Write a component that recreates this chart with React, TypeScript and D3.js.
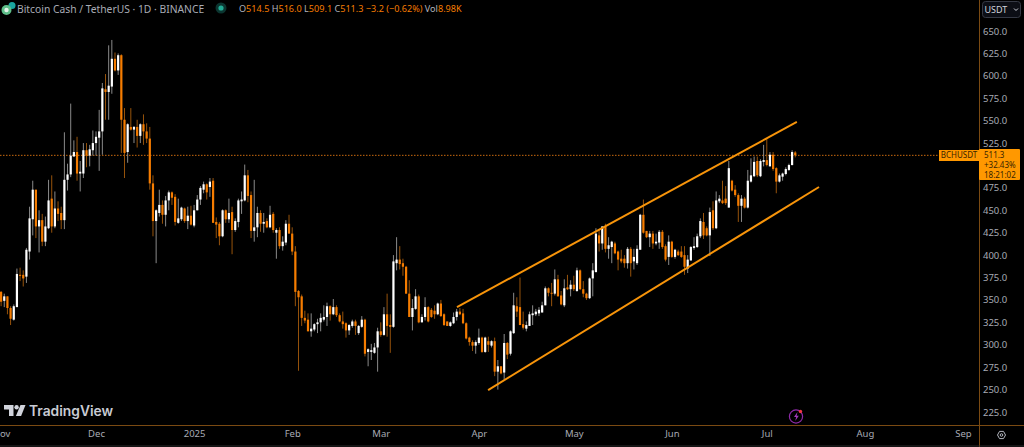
import { useEffect, useRef } from "react";
import * as d3 from "d3";

const firstDay = new Date(Date.UTC(2024, 10, 1));

// daily candles from 2024-11-01
const opens = [
  359,349,354,341,328,342,378,378,376,404,
  440,473,432,439,415,430,463,432,452,447,
  439,484,490,510,515,491,491,517,511,517,
  525,531,538,585,582,588,619,606,623,551,
  515,543,540,543,533,546,538,530,480,438,
  447,456,445,461,470,465,436,440,452,438,
  444,433,450,462,473,479,476,483,437,435,
  421,450,440,448,428,437,460,461,489,467,
  427,431,447,435,438,431,446,425,428,410,
  414,435,424,404,360,354,330,328,315,317,
  323,325,328,331,343,334,342,333,326,324,
  316,321,326,313,320,328,292,292,291,297,
  315,311,334,322,320,391,395,391,387,357,
  331,340,354,325,331,342,339,338,334,346,
  334,326,321,324,331,337,335,324,308,303,
  299,302,308,292,304,299,304,270,276,269,
  302,290,313,343,342,323,318,321,333,334,
  335,336,344,363,358,357,373,355,344,364,
  362,367,360,383,362,357,352,374,381,422,
  413,432,407,409,413,404,396,396,391,407,
  393,391,406,445,427,420,424,413,414,426,
  410,398,415,398,404,404,400,385,394,408,
  409,421,437,430,422,450,430,460,461,463,
  453,483,473,467,455,463,453,482,488,505,
  488,504,506,499,512,497,482,487.5,490.5,495,
  500.5,514.5,
];
const closes = [
  348,354,341,329,343,379,377,374,406,441,
  473,432,439,415,432,461,432,452,446,439,
  484,490,511,515,491,493,517,511,518,525,
  532,538,586,582,589,619,606,623,551,514,
  546,540,543,533,546,538,530,480,438,450,
  456,445,461,470,464,437,441,453,438,444,
  434,450,462,475,479,470,482,436,434,421,
  450,440,447,428,438,461,462,489,466,427,
  431,447,435,437,431,445,428,428,410,415,
  435,424,404,359,353,330,327,315,318,323,
  325,330,331,343,334,342,333,326,323,316,
  322,326,321,321,328,290,295,294,297,315,
  311,334,321,320,393,395,390,387,357,331,
  341,354,325,331,342,326,331,334,346,332,
  322,321,325,331,337,334,324,307,303,299,
  303,308,292,308,300,304,270,276,268,302,
  289,315,344,337,322,319,322,334,335,337,
  339,344,363,358,357,373,354,345,363,362,
  367,362,383,362,357,352,374,383,424,413,
  432,407,411,415,402,395,393,391,407,391,
  398,407,445,425,420,424,413,415,426,409,
  395,415,398,406,400,398,387,395,409,410,
  421,438,422,422,448,430,461,463,458,458,
  497,472,467,455,463,453,483,489,504,489,
  505,506,500.5,512,496,482,489,491,496,500.5,
  515,511.3,
];
const highs = [
  360,357,354,343,345,385,386,383,408,454,
  483,473,450,446,443,484,489,471,460,454,
  537,502,569,528,532,505,525,525,523,539,
  538,562,592,602,634,640,626,625,624,564,
  547,564,544,551,547,557,547,543,489,451,
  473,461,466,472,471,468,463,454,453,454,
  455,456,467,477,482,480,486,486,442,437,
  451,451,463,454,441,463,471,501,495,471,
  484,454,450,447,441,455,448,430,431,421,
  439,445,431,410,361,356,338,335,335,324,
  329,335,344,347,344,351,344,335,337,325,
  323,328,328,322,332,329,296,301,302,319,
  325,342,357,334,400,420,410,396,388,372,
  351,362,356,334,353,343,341,344,347,350,
  335,326,326,336,340,341,340,325,309,305,
  305,318,309,309,309,305,308,283,276,312,
  303,316,358,353,375,337,326,337,344,340,
  342,348,365,364,369,384,378,360,373,378,
  372,377,386,384,371,358,375,391,430,429,
  432,435,420,416,415,405,406,400,409,409,
  407,411,446,462,427,427,427,424,428,428,
  412,422,416,407,406,410,410,400,410,420,
  424,441,447,432,453,460,471,467,483,477,
  505,484,478,469,467,465,495,508,510,510,
  507,523,530,515,515,498,491,492,498,502,
  517,516,
];
const lows = [
  343,342,334,322,327,342,371,365,369,395,
  422,419,403,410,410,429,425,430,438,429,
  429,472,487,510,483,471,486,498,499,511,
  511,494,512,551,551,580,605,601,514,486,
  503,539,525,520,525,523,525,473,421,391,
  443,435,432,450,456,433,435,438,436,429,
  433,431,450,456,469,462,465,436,419,411,
  420,436,436,401,426,431,446,460,459,419,
  415,420,426,425,430,430,425,396,407,405,
  411,424,400,343,271,321,324,315,309,315,
  313,315,326,321,327,333,331,325,318,308,
  311,319,311,311,319,287,276,283,290,270,
  309,310,309,291,319,383,384,377,357,331,
  316,339,324,325,327,325,330,329,333,331,
  321,321,320,323,327,333,323,306,299,293,
  290,300,291,291,292,297,265,250,267,261,
  284,288,312,331,322,317,315,321,322,332,
  332,336,344,354,343,355,354,344,342,361,
  354,360,359,361,353,350,351,354,381,404,
  406,403,396,391,401,383,391,386,385,376,
  384,389,406,424,419,409,407,411,407,407,
  393,389,397,396,399,397,378,380,394,406,
  408,419,418,421,399,428,429,458,457,456,
  453,471,465,437,437,452,452,481,487,487,
  487,499,499,499,494,469,481,483,489,494,
  500,509,
];

const priceTicks = [225,250,275,300,325,350,375,400,425,450,475,500,525,550,575,600,625,650];
const monthTicks = ["2024-11-01","2024-12-01","2025-01-01","2025-02-01","2025-03-01","2025-04-01","2025-05-01","2025-06-01","2025-07-01","2025-08-01","2025-09-01"];
const monthLabels = ["Nov","Dec","2025","Feb","Mar","Apr","May","Jun","Jul","Aug","Sep"];

// the two hand drawn channel lines, [date, price]
const upperChannel: [string, number][] = [["2025-03-25T02:00:00Z", 342], ["2025-07-10T12:00:00Z", 548.5]];
const lowerChannel: [string, number][] = [["2025-04-03T22:00:00Z", 249.5], ["2025-07-17T12:00:00Z", 476]];

const lastPrice = 511.3;

const legendParts: [string, string][] = [
  ["O", "#b2b5be"], ["514.5 ", "#f57c00"], ["H", "#b2b5be"], ["516.0 ", "#f57c00"],
  ["L", "#b2b5be"], ["509.1 ", "#f57c00"], ["C", "#b2b5be"], ["511.3 ", "#f57c00"],
  ["−3.2 (−0.62%) ", "#f57c00"], ["Vol", "#b2b5be"], ["8.98K", "#f57c00"],
];

const ORANGE = "#f57c00";
const WHITE = "#ffffff";
const FONT = "'Noto Sans', sans-serif";

export default function App() {
  const svgRef = useRef<SVGSVGElement>(null);

  useEffect(() => {
    const el = svgRef.current;
    if (!el) return;
    document.body.style.margin = "0";
    document.body.style.background = "#000";

    const width = 1024;
    const height = 447;
    const plotRight = 979;
    const plotBottom = 425;

    const svg = d3.select(el);
    svg.selectAll("*").remove();

    const x = d3
      .scaleUtc()
      .domain([firstDay, new Date(Date.UTC(2025, 8, 1))])
      .range([1.1, 1.1 + 304 * 3.164]);
    const y = d3.scaleLinear().domain([225, 650]).range([412, 31]);

    const days = closes.map((_, i) => d3.utcDay.offset(firstDay, i));

    // last price dotted line
    svg.append("line")
      .attr("x1", 0).attr("x2", plotRight)
      .attr("y1", y(lastPrice)).attr("y2", y(lastPrice))
      .attr("stroke", "#c8690f")
      .attr("stroke-width", 1)
      .attr("stroke-dasharray", "1.5 1.5");

    // wicks
    svg.append("g").selectAll("line")
      .data(days)
      .enter()
      .append("line")
      .attr("x1", (d) => x(d)).attr("x2", (d) => x(d))
      .attr("y1", (_, i) => y(highs[i]))
      .attr("y2", (_, i) => y(lows[i]))
      .attr("stroke", (_, i) => (closes[i] >= opens[i] ? "#9a9a9a" : "#a85c0c"))
      .attr("stroke-width", 0.9);

    // bodies
    svg.append("g").selectAll("rect")
      .data(days)
      .enter()
      .append("rect")
      .attr("x", (d) => x(d) - 1.1)
      .attr("width", 2.2)
      .attr("y", (_, i) => y(Math.max(opens[i], closes[i])))
      .attr("height", (_, i) => Math.max(1, Math.abs(y(opens[i]) - y(closes[i]))))
      .attr("fill", (_, i) => (closes[i] >= opens[i] ? WHITE : ORANGE));

    // channel
    const channel = d3
      .line<[string, number]>()
      .x((d) => x(new Date(d[0])))
      .y((d) => y(d[1]));
    [upperChannel, lowerChannel].forEach((c) => {
      svg.append("path")
        .attr("d", channel(c))
        .attr("fill", "none")
        .attr("stroke", "#f7940a")
        .attr("stroke-width", 2);
    });

    // panel backgrounds over anything that runs past the plot
    svg.append("rect").attr("x", plotRight).attr("y", 0).attr("width", width - plotRight).attr("height", height).attr("fill", "#000");
    svg.append("rect").attr("x", 0).attr("y", plotBottom).attr("width", width).attr("height", height - plotBottom).attr("fill", "#000");

    // price axis
    const yAxis = svg.append("g")
      .attr("transform", `translate(${plotRight},0)`)
      .call(d3.axisRight(y).tickValues(priceTicks).tickSize(0).tickPadding(4).tickFormat((d) => d3.format(".1f")(d as number)));
    yAxis.select(".domain").remove();
    yAxis.selectAll("text").attr("font-family", FONT).attr("font-size", 9.5).attr("fill", "#a8abb4");

    // time axis
    const monthDates = monthTicks.map((d) => new Date(d + "T00:00:00Z"));
    const xAxis = svg.append("g")
      .attr("transform", `translate(0,${plotBottom})`)
      .call(
        d3.axisBottom(x).tickValues(monthDates).tickSize(0).tickPadding(5)
          .tickFormat((_, i) => monthLabels[i])
      );
    xAxis.select(".domain").remove();
    xAxis.selectAll("text").attr("font-family", FONT).attr("font-size", 9.5).attr("fill", "#a8abb4");

    // axis borders
    svg.append("line").attr("x1", 0).attr("x2", width).attr("y1", plotBottom + 0.5).attr("y2", plotBottom + 0.5).attr("stroke", "#7a4a12");
    svg.append("line").attr("x1", plotRight + 0.5).attr("x2", plotRight + 0.5).attr("y1", 0).attr("y2", height).attr("stroke", "#7a4a12");
    svg.append("line").attr("x1", 0).attr("x2", width).attr("y1", height - 1).attr("y2", height - 1).attr("stroke", "#2a2a2a");

    // last price labels
    svg.append("rect").attr("x", 939).attr("y", 150).attr("width", 40).attr("height", 11).attr("fill", "#ff9800");
    svg.append("text").attr("x", 959).attr("y", 158.4).attr("text-anchor", "middle")
      .attr("font-family", FONT).attr("font-size", 8).attr("fill", "#3a2500").text("BCHUSDT");
    svg.append("rect").attr("x", 979).attr("y", 149).attr("width", 41).attr("height", 31).attr("rx", 1).attr("fill", "#ff9800");
    ["511.3", "+32.43%", "18:21:02"].forEach((t, i) => {
      svg.append("text").attr("x", 984).attr("y", 158 + i * 9.8)
        .attr("font-family", FONT).attr("font-size", 8).attr("fill", "#3a2500").text(t);
    });

    // currency button
    svg.append("rect").attr("x", 982.5).attr("y", 1.5).attr("width", 38).attr("height", 16).attr("rx", 3)
      .attr("fill", "#0c0e15").attr("stroke", "#363a45");
    svg.append("text").attr("x", 984.5).attr("y", 12.5).attr("font-family", FONT).attr("font-size", 9).attr("fill", "#d1d4dc").text("USDT");
    svg.append("path").attr("d", "M1014 8.5l2 2 2-2").attr("fill", "none").attr("stroke", "#d1d4dc");

    // settings icon
    svg.append("path").attr("d", "M997.5 435l2-3.6h4l2 3.6-2 3.6h-4z").attr("fill", "none").attr("stroke", "#b2b5be");
    svg.append("circle").attr("cx", 1001.5).attr("cy", 435).attr("r", 1.3).attr("fill", "none").attr("stroke", "#b2b5be");

    // symbol icon and legend
    svg.append("circle").attr("cx", 12).attr("cy", 5.5).attr("r", 3.5).attr("fill", "#1aa6a0");
    svg.append("circle").attr("cx", 6.5).attr("cy", 10).attr("r", 5).attr("fill", "#5fbf8a");
    svg.append("circle").attr("cx", 6.5).attr("cy", 10).attr("r", 2.2).attr("fill", "#e4f3ea");
    svg.append("text").attr("x", 17).attr("y", 12.5)
      .attr("font-family", FONT).attr("font-size", 10.3).attr("fill", "#a8abb4")
      .text("Bitcoin Cash / TetherUS · 1D · BINANCE");
    svg.append("circle").attr("cx", 221).attr("cy", 8).attr("r", 5.5).attr("fill", "#0c3530");
    svg.append("circle").attr("cx", 221).attr("cy", 8).attr("r", 2.6).attr("fill", "#22ab94");
    const legend = svg.append("text").attr("x", 239).attr("y", 12)
      .attr("font-family", FONT).attr("font-size", 9.1)
      .attr("xml:space", "preserve");
    legendParts.forEach(([t, c]) => {
      legend.append("tspan").attr("fill", c).text(t);
    });

    // watermark
    svg.append("path").attr("d", "M4 405h9.5v11h-4.5v-6.5h-5z").attr("fill", "#d1d4dc");
    svg.append("circle").attr("cx", 16.6).attr("cy", 407.2).attr("r", 2.2).attr("fill", "#d1d4dc");
    svg.append("path").attr("d", "M20.5 405h5l-4.4 11h-5.2z").attr("fill", "#d1d4dc");
    svg.append("text").attr("x", 29).attr("y", 415.5)
      .attr("font-family", "Inter, sans-serif").attr("font-size", 13.8).attr("font-weight", 600)
      .attr("fill", "#c8cbd3").text("TradingView");

    // lightning badge
    svg.append("circle").attr("cx", 796).attr("cy", 416.5).attr("r", 6.6).attr("fill", "none").attr("stroke", "#8e2aa8").attr("stroke-width", 1.2);
    svg.append("path").attr("d", "M797.5 412l-3.5 5h2.2l-1 4 3.6-5.2h-2.2z").attr("fill", "#a23bbd");
    svg.append("circle").attr("cx", 800.5).attr("cy", 411.5).attr("r", 1.7).attr("fill", "#f23645");
  }, []);

  return (
    <svg
      ref={svgRef}
      width={1024}
      height={447}
      style={{ display: "block", position: "absolute", left: 0, top: 0, background: "#000" }}
    />
  );
}
